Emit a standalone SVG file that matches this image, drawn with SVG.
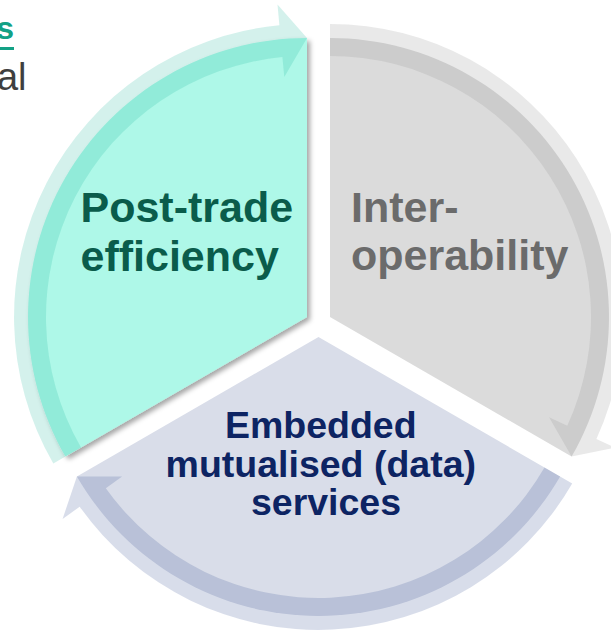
<svg xmlns="http://www.w3.org/2000/svg" width="611" height="632" viewBox="0 0 611 632">
  <defs>
    <filter id="shadow" x="-10%" y="-10%" width="130%" height="130%">
      <feDropShadow dx="3" dy="3" stdDeviation="2.5" flood-color="#000" flood-opacity="0.35"/>
    </filter>
  </defs>
  <style>
    .lbl { font-family: "Liberation Sans", Arial, sans-serif; font-weight: bold; }
    .teal-fill { fill: #aef8e8; }
    .gray-fill { fill: #dbdbdb; }
    .blue-fill { fill: #d9dde9; }
    .teal-arrow { fill: #11b296; fill-opacity: 0.18; }
    .gray-arrow { fill: #919191; fill-opacity: 0.2; }
    .blue-arrow { fill: #28418a; fill-opacity: 0.18; }
  </style>
  <rect width="611" height="632" fill="#ffffff"/>

  <g id="header-fragment">
    <text class="lbl" x="14" y="39" font-size="32" text-anchor="end" fill="#13a185">s</text>
    <rect x="0" y="47" width="14" height="3" fill="#13a185"/>
    <text x="26.5" y="90" font-family="Liberation Sans, Arial, sans-serif" font-size="38" text-anchor="end" fill="#3f3f3f">al</text>
  </g>

  <g id="node-post-trade">
    <path class="teal-fill" filter="url(#shadow)" d="M307,317 L65.4,456.5 A279,279 0 0 1 307,38 Z"/>
    <text class="lbl" font-size="43" fill="#0a5c4b">
      <tspan x="80.5" y="222">Post-trade</tspan>
      <tspan x="80.5" y="271">efficiency</tspan>
    </text>
  </g>

  <g id="node-interoperability">
    <path class="gray-fill" d="M330,317 L330,38 A279,279 0 0 1 571.6,456.5 Z"/>
    <text class="lbl" font-size="43" fill="#6b6b6b">
      <tspan x="351" y="222">Inter-</tspan>
      <tspan x="351" y="270">operability</tspan>
    </text>
  </g>

  <g id="node-services">
    <path class="blue-fill" d="M318.5,337 L560.1,476.5 A279,279 0 0 1 76.9,476.5 Z"/>
    <text class="lbl" font-size="37.5" fill="#0d2463" text-anchor="middle">
      <tspan x="326" y="438">Embedded</tspan>
      <tspan x="326" y="477">mutualised (data)</tspan>
      <tspan x="326" y="515">services</tspan>
    </text>
  </g>

  <g id="connectors">
    <path class="teal-arrow" d="M53.3,463.5 A293,293 0 0 1 279.4,25.3 L277.5,4.4 L307,38 L284.3,77.1 L282.4,57.1 A261,261 0 0 0 81.0,447.5 Z"/>
    <path class="gray-arrow" d="M330,24 A293,293 0 0 1 596.4,439.0 L615.5,447.7 L571.6,456.5 L549.1,417.3 L567.3,425.7 A261,261 0 0 0 330,56 Z"/>
    <path class="blue-arrow" d="M572.2,483.5 A293,293 0 0 1 79.7,506.7 L62.6,518.9 L76.9,476.5 L122.1,476.6 L105.8,488.2 A261,261 0 0 0 544.5,467.5 Z"/>
  </g>
</svg>
